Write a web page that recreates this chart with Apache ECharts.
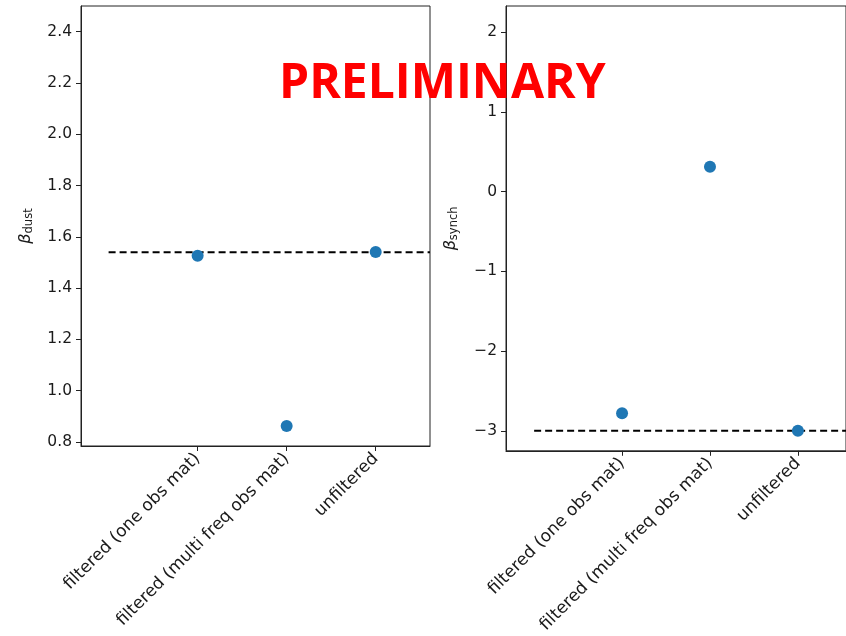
<!DOCTYPE html>
<html>
<head>
<meta charset="utf-8">
<script src="https://cdn.jsdelivr.net/npm/echarts@6/dist/echarts.min.js"></script>
<style>
  html, body { margin: 0; padding: 0; background: #fff; }
  #chart { width: 846px; height: 636px; }
</style>
</head>
<body>
<div id="chart"></div>
<script>
// categories shared by both panels
const categories = ["filtered (one obs mat)", "filtered (multi freq obs mat)", "unfiltered"];

// beta dust panel
const dustValues = [1.526, 0.862, 1.541];
const dustRef = 1.54;
const dustTicks = [0.8, 1.0, 1.2, 1.4, 1.6, 1.8, 2.0, 2.2, 2.4];

// beta synch panel
const synchValues = [-2.78, 0.31, -3.0];
const synchRef = -3.0;
const synchTicks = [-3, -2, -1, 0, 1, 2];

const catPos = [0, 1, 2];
const refStart = -1;

const tickFont = { fontFamily: "DejaVu Sans", fontSize: 15.5, color: "#1a1a1a" };
const dotColor = "#1f77b4";

function xAxisFor(gridIndex, min, max) {
  return {
    type: "value",
    gridIndex,
    min,
    max,
    splitLine: { show: false },
    axisLine: { show: true, onZero: false, lineStyle: { color: "#222", width: 1 } },
    axisTick: { show: true, length: 5, customValues: catPos, lineStyle: { color: "#222" } },
    axisLabel: {
      ...tickFont,
      fontSize: 17,
      rotate: 45,
      margin: 10,
      customValues: catPos,
      formatter: v => categories[Math.round(v)]
    }
  };
}

function yAxisFor(gridIndex, min, max, ticks, gap, sub, fmt) {
  return {
    type: "value",
    gridIndex,
    min,
    max,
    name: "{b|β}{s|" + sub + "}",
    nameLocation: "middle",
    nameRotate: 90,
    nameGap: gap,
    nameTextStyle: {
      rich: {
        b: { fontFamily: "DejaVu Sans", fontSize: 16, fontStyle: "italic", color: "#1a1a1a" },
        s: { fontFamily: "DejaVu Sans", fontSize: 11.5, color: "#1a1a1a", verticalAlign: "bottom", padding: [7, 0, 0, 0] }
      }
    },
    splitLine: { show: false },
    axisLine: { show: true, onZero: false, lineStyle: { color: "#222", width: 1 } },
    axisTick: { show: true, length: 5, customValues: ticks, lineStyle: { color: "#222" } },
    axisLabel: { ...tickFont, margin: 9, customValues: ticks, formatter: fmt }
  };
}

const chart = echarts.init(document.getElementById("chart"), null, { renderer: "canvas" });

const dustMin = 0.784, dustMax = 2.5;
const synchMin = -3.25, synchMax = 2.326;
const dustXMin = -1.31, dustXMax = 2.61;
const synchXMin = -1.32, synchXMax = 2.547;

chart.setOption({
  animation: false,
  backgroundColor: "#fff",
  grid: [
    { left: 81, top: 6, width: 349, height: 440, show: true, borderColor: "#222", borderWidth: 1, containLabel: false },
    { left: 506, top: 6, width: 348, height: 445, show: true, borderColor: "#222", borderWidth: 1, containLabel: false }
  ],
  xAxis: [
    xAxisFor(0, dustXMin, dustXMax),
    xAxisFor(1, synchXMin, synchXMax)
  ],
  yAxis: [
    yAxisFor(0, dustMin, dustMax, dustTicks, 46, "dust", v => v.toFixed(1)),
    yAxisFor(1, synchMin, synchMax, synchTicks, 46, "synch", v => (v < 0 ? "\u2212" + Math.abs(v) : String(v)))
  ],
  series: [
    {
      type: "line",
      xAxisIndex: 0, yAxisIndex: 0,
      data: [[refStart, dustRef], [dustXMax, dustRef]],
      symbol: "none",
      lineStyle: { color: "#000", width: 2, type: [7, 4] },
      z: 2
    },
    {
      type: "scatter",
      xAxisIndex: 0, yAxisIndex: 0,
      data: catPos.map((x, i) => [x, dustValues[i]]),
      symbolSize: 12,
      itemStyle: { color: dotColor, opacity: 1 },
      z: 3
    },
    {
      type: "line",
      xAxisIndex: 1, yAxisIndex: 1,
      data: [[refStart, synchRef], [synchXMax, synchRef]],
      symbol: "none",
      lineStyle: { color: "#000", width: 2, type: [7, 4] },
      z: 2
    },
    {
      type: "scatter",
      xAxisIndex: 1, yAxisIndex: 1,
      data: catPos.map((x, i) => [x, synchValues[i]]),
      symbolSize: 12,
      itemStyle: { color: dotColor, opacity: 1 },
      z: 3
    }
  ],
  graphic: [
    {
      type: "text",
      left: 279,
      top: 60,
      z: 100,
      style: {
        text: "PRELIMINARY",
        fill: "#ff0000",
        font: "bold 48px 'Open Sans'"
      }
    }
  ]
});
</script>
</body>
</html>
